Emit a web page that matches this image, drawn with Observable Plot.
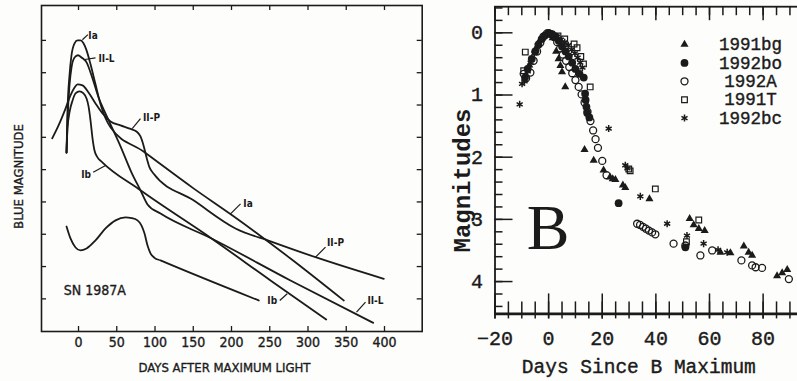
<!DOCTYPE html>
<html><head><meta charset="utf-8">
<script src="https://cdn.jsdelivr.net/npm/d3@7"></script>
<script src="https://cdn.jsdelivr.net/npm/@observablehq/plot@0.6"></script>
<style>
html,body{margin:0;padding:0;background:#fdfdfb;overflow:hidden}
#wrap{position:relative;width:797px;height:381px;overflow:hidden;background:#fdfdfb}
#wrap svg{position:absolute;top:0}
</style></head><body><div id="wrap"></div>
<script>
// ================= LEFT PANEL DATA (days after max, blue magnitude in tick units) =================
const leftDayTicks = [0, 50, 100, 150, 200, 250, 300, 350, 400];
const leftMagTicks = [0, 1, 2, 3, 4, 5, 6, 7, 8];

const curveIa = [[-15.7,3.47],[-14.4,2.17],[-11.8,1.08],[-9.2,0.46],[-5.2,0.09],[-1.3,0.0],[2.6,0.0],[6.5,0.09],[10.5,0.31],[15.7,0.74],[22.2,1.36],[28.8,1.98],[35.3,2.41],[41.8,2.69],[85.0,3.44],[150.3,4.58],[201.3,5.42],[277.1,6.75],[346.8,8.05]];
const curveIIL = [[-15.7,3.47],[-14.4,2.48],[-11.8,1.39],[-9.2,0.84],[-5.2,0.53],[-0.7,0.46],[3.9,0.53],[10.5,0.68],[18.3,1.18],[26.1,1.76],[34.0,2.20],[41.8,2.60],[54.9,3.28],[69.3,4.09],[81.0,4.64],[90.2,5.08],[107.2,5.36],[173.9,6.13],[277.1,7.43],[385.2,8.74]];
const curveIb = [[-15.7,3.47],[-14.4,2.72],[-11.8,2.23],[-7.8,1.86],[-3.9,1.64],[1.3,1.58],[6.5,1.64],[10.5,1.80],[13.1,2.04],[15.7,2.48],[18.3,3.03],[20.9,3.41],[24.8,3.62],[30.1,3.75],[81.0,4.64],[173.9,6.13],[251.0,7.43],[323.8,8.64]];
const curveIIP = [[-34.4,3.03],[-26.1,2.63],[-17.0,2.11],[-10.5,1.70],[-5.2,1.46],[-1.3,1.36],[5.2,1.39],[13.1,1.61],[22.2,1.95],[31.4,2.26],[41.8,2.51],[54.9,2.63],[68.0,2.74],[75.8,2.82],[81.0,2.97],[85.0,3.25],[88.9,3.62],[92.8,3.93],[98.0,4.12],[150.3,4.95],[205.2,5.82],[251.0,6.22],[309.8,6.71],[399.1,7.38]];
const curveSN1987A = [[-15.7,5.76],[-10.5,6.13],[-3.9,6.41],[2.6,6.50],[10.5,6.44],[22.2,6.19],[35.3,5.82],[48.4,5.57],[61.4,5.48],[69.3,5.50],[77.1,5.57],[82.4,5.73],[86.3,5.98],[90.2,6.35],[94.1,6.59],[99.3,6.73],[107.2,6.81],[235.7,8.05]];

const leftLabels = [
  {text:"Ia", day:19.0, mag:-0.15},
  {text:"II-L", day:36.6, mag:0.57},
  {text:"II-P", day:95.4, mag:2.41},
  {text:"Ib", day:9.8, mag:4.15},
  {text:"Ia", day:221.6, mag:5.05},
  {text:"II-P", day:336.0, mag:6.28},
  {text:"Ib", day:253.2, mag:8.05},
  {text:"II-L", day:388.2, mag:8.05}
];
const leftLeaders = [
  {d1:5.1, m1:-0.02, d2:12.2, m2:-0.18},
  {d1:6.1, m1:0.60, d2:22.2, m2:0.54},
  {d1:70.2, m1:2.73, d2:81.0, m2:2.42},
  {d1:19.2, m1:4.08, d2:35.3, m2:3.87},
  {d1:198.7, m1:5.37, d2:211.8, m2:5.06},
  {d1:309.8, m1:6.71, d2:322.9, m2:6.40},
  {d1:263.1, m1:8.05, d2:272.8, m2:7.84},
  {d1:363.4, m1:8.41, d2:375.2, m2:8.10}
];

// ================= RIGHT PANEL DATA (days since B maximum, magnitudes) =================
const rightDayMajor = [-20, 0, 20, 40, 60, 80, 100];
const rightDayLabels = [-20, 0, 20, 40, 60, 80];
const rightDayMinor = d3.range(-20, 101, 5);
const rightMagMajor = [0, 1, 2, 3, 4];
const rightMagMinor = d3.range(-4, 45, 2).map(v => v / 10);

const sn1991bg = [[-7.2,0.52],[-4.8,0.26],[-2.5,0.08],[-0.8,0.02],[1.5,0.08],[2.8,0.30],[3.7,0.42],[4.4,0.53],[5.0,0.63],[6.2,0.87],[13.4,1.88],[16.8,2.05],[20.5,2.21],[22.9,2.32],[23.9,2.35],[24.9,2.36],[27.7,2.45],[28.6,2.49],[37.6,2.67],[52.6,2.99],[54.1,3.09],[56.0,3.15],[58.2,3.18],[64.1,3.53],[67.8,3.54],[72.8,3.43],[74.6,3.53],[75.9,3.58],[85.2,3.91],[87.1,3.86],[89.0,3.81]];
const sn1992bo = [[-8.8,0.72],[-7.8,0.58],[-6.3,0.42],[-5.0,0.30],[-3.8,0.19],[-2.6,0.10],[-1.3,0.04],[0.0,0.0],[1.3,0.02],[2.6,0.06],[3.8,0.13],[5.0,0.22],[6.3,0.30],[7.5,0.38],[8.8,0.48],[10.0,0.58],[11.5,0.66],[13.1,0.72],[13.6,0.98],[13.8,1.08],[14.1,1.19],[14.4,1.29],[15.2,1.36],[26.1,2.74],[51.0,3.45]];
const sn1992A = [[-9.3,0.66],[-8.4,0.73],[-6.8,0.64],[-5.6,0.45],[-4.3,0.30],[-3.1,0.16],[-1.9,0.06],[-0.6,0.01],[0.8,0.02],[2.0,0.07],[3.2,0.15],[4.3,0.25],[5.3,0.35],[6.5,0.45],[7.7,0.55],[8.8,0.65],[10.0,0.76],[11.2,0.87],[12.3,0.99],[13.4,1.12],[14.5,1.27],[15.6,1.42],[16.6,1.57],[17.5,1.71],[18.4,1.85],[20.0,2.06],[21.6,2.29],[33.0,3.07],[34.1,3.09],[35.2,3.12],[36.3,3.15],[37.4,3.18],[38.6,3.21],[39.8,3.24],[46.6,3.39],[51.0,3.42],[56.6,3.58],[61.0,3.50],[71.9,3.66],[75.9,3.74],[77.2,3.77],[79.6,3.78],[89.6,3.96]];
const sn1991T = [[-9.3,0.61],[-8.7,0.31],[3.5,0.05],[6.0,0.10],[9.5,0.18],[10.6,0.24],[12.0,0.38],[13.0,0.50],[15.5,0.87],[29.9,2.19],[30.4,2.22],[39.8,2.51],[51.4,3.36],[56.0,3.01]];
const sn1992bc = [[-10.8,1.15],[-9.9,0.82],[-9.0,0.78],[-7.8,0.62],[-6.7,0.48],[-5.3,0.33],[-4.0,0.20],[-2.6,0.10],[-1.2,0.04],[0.3,0.0],[1.8,0.03],[3.2,0.06],[4.6,0.11],[6.0,0.15],[7.3,0.20],[8.6,0.27],[9.8,0.33],[10.8,0.40],[11.8,0.48],[12.6,0.56],[22.4,1.54],[28.6,2.13],[29.4,2.18],[34.2,2.63],[44.2,3.07],[51.6,3.26],[57.8,3.39],[63.2,3.49],[66.6,3.53]];

const seriesNames = ["1991bg", "1992bo", "1992A", "1991T", "1992bc"];

// ================= STYLE =================
const INK = "#1b1b1b";
const NARROW = "'Liberation Sans Narrow','DejaVu Sans Condensed','Liberation Sans',sans-serif";
const MONO = "'Liberation Mono','DejaVu Sans Mono',monospace";
const SERIF = "'Liberation Serif','DejaVu Serif',serif";
const bolden = w => ({fill: INK, stroke: INK, strokeWidth: w, paintOrder: "stroke"});
const fmtMinus = d => d < 0 ? "\u2212" + Math.abs(d) : String(d);

const leftRows = [["Ia", curveIa], ["II-L", curveIIL], ["Ib", curveIb], ["II-P", curveIIP], ["SN 1987A", curveSN1987A]]
  .flatMap(([type, pts]) => pts.map(([day, mag]) => ({type, day, mag})));

// ---- left plot ----
const L = {w: 430, h: 381, top: 5, right: 8.3, bottom: 50, left: 41};
const Lph = L.h - L.top - L.bottom, Lpw = L.w - L.left - L.right;
const leftPlot = Plot.plot({
  width: L.w, height: L.h,
  marginTop: L.top, marginRight: L.right, marginBottom: L.bottom, marginLeft: L.left,
  x: {domain: [-48.4, 449.3], axis: null},
  y: {domain: [-1.08, 9.01], reverse: true, axis: null},
  style: {background: "transparent", color: INK},
  marks: [
    Plot.frame({stroke: INK, strokeWidth: 1.6}),
    Plot.tickX(leftDayTicks, {x: d => d, insetTop: Lph - 5, stroke: INK, strokeWidth: 1.3}),
    Plot.tickX(leftDayTicks, {x: d => d, insetBottom: Lph - 5, stroke: INK, strokeWidth: 1.3}),
    Plot.tickY(leftMagTicks, {y: d => d, insetRight: Lpw - 5, stroke: INK, strokeWidth: 1.3}),
    Plot.tickY(leftMagTicks, {y: d => d, insetLeft: Lpw - 5, stroke: INK, strokeWidth: 1.3}),
    Plot.text(leftDayTicks, {x: d => d, text: d => String(d), frameAnchor: "bottom", dy: 11.5, lineAnchor: "middle", fontSize: 14, fontFamily: NARROW, ...bolden(0.35)}),
    Plot.line(leftRows, {x: "day", y: "mag", z: "type", curve: "monotone-x", stroke: INK, strokeWidth: 1.8}),
    Plot.link(leftLeaders, {x1: "d1", y1: "m1", x2: "d2", y2: "m2", stroke: INK, strokeWidth: 1.2}),
    Plot.text(leftLabels, {x: "day", y: "mag", text: "text", fontSize: 10, fontWeight: "bold", fontFamily: NARROW, fill: INK}),
    Plot.text(["SN 1987A"], {frameAnchor: "top-left", dx: 22.3, dy: 280, textAnchor: "start", fontSize: 14, fontFamily: NARROW, ...bolden(0.35)}),
    Plot.text(["DAYS AFTER MAXIMUM LIGHT"], {frameAnchor: "bottom-left", dx: 183, dy: 36, textAnchor: "middle", lineAnchor: "middle", fontSize: 13, fontFamily: NARROW, ...bolden(0.35)}),
    Plot.text(["BLUE MAGNITUDE"], {frameAnchor: "top-left", dx: -23, dy: 171, rotate: -90, textAnchor: "middle", lineAnchor: "middle", fontSize: 13, fontFamily: NARROW, ...bolden(0.35)})
  ]
});
leftPlot.style.left = "0px";

// ---- right plot ----
const R = {w: 400, h: 381, top: 6.2, right: 10, bottom: 67.6, left: 64.5};
const Rph = R.h - R.top - R.bottom, Rpw = R.w - R.left - R.right;
const pointStyles = {
  "1991bg": {symbol: "triangle", r: 3.0, fill: INK, stroke: "none"},
  "1992bo": {symbol: "circle", r: 3.9, fill: INK, stroke: "none"},
  "1992A": {symbol: "circle", r: 3.5, fill: "none", stroke: INK, strokeWidth: 1.3},
  "1991T": {symbol: "square", r: 3.2, fill: "none", stroke: INK, strokeWidth: 1.2},
  "1992bc": {symbol: "asterisk", r: 3.3, fill: "none", stroke: INK, strokeWidth: 1.5}
};
const seriesData = {"1991bg": sn1991bg, "1992bo": sn1992bo, "1992A": sn1992A, "1991T": sn1991T, "1992bc": sn1992bc};
const dotMarks = seriesNames.map(name =>
  Plot.dot(seriesData[name].map(([day, mag]) => ({day, mag})), {x: "day", y: "mag", ...pointStyles[name]}));
const legendMarks = seriesNames.flatMap((name, i) => [
  Plot.dot([name], {frameAnchor: "top-left", dx: 189.5, dy: 37.8 + i * 18.4, ...pointStyles[name]}),
  Plot.text([name], {frameAnchor: "top-left", dx: 255.5, dy: 37.8 + i * 18.4, textAnchor: "middle", lineAnchor: "middle", fontSize: 17.5, fontFamily: MONO, ...bolden(0.4)})
]);

const rightPlot = Plot.plot({
  width: R.w, height: R.h,
  marginTop: R.top, marginRight: R.right, marginBottom: R.bottom, marginLeft: R.left,
  x: {domain: [-20, 101.4], axis: null},
  y: {domain: [-0.42, 4.52], reverse: true, axis: null},
  style: {background: "transparent", color: INK},
  marks: [
    Plot.frame({stroke: INK, strokeWidth: 1.8}),
    Plot.ruleY([4.52], {stroke: INK, strokeWidth: 2.6}),
    // bottom ticks (crossing the axis)
    Plot.tickX(rightDayMinor, {x: d => d, insetTop: Rph - 12, insetBottom: -5, stroke: INK, strokeWidth: 1.5}),
    Plot.tickX(rightDayMajor, {x: d => d, insetTop: Rph - 20, insetBottom: -5, stroke: INK, strokeWidth: 1.5}),
    // top ticks
    Plot.tickX(rightDayMinor, {x: d => d, insetBottom: Rph - 9, stroke: INK, strokeWidth: 1.5}),
    Plot.tickX(rightDayMajor, {x: d => d, insetBottom: Rph - 14, stroke: INK, strokeWidth: 1.5}),
    // left ticks
    Plot.tickY(rightMagMinor, {y: d => d, insetRight: Rpw - 8, stroke: INK, strokeWidth: 1.5}),
    Plot.tickY(rightMagMajor, {y: d => d, insetRight: Rpw - 18, stroke: INK, strokeWidth: 1.5}),
    Plot.text(rightDayLabels, {x: d => d, text: fmtMinus, frameAnchor: "bottom", dy: 25, lineAnchor: "middle", fontSize: 20, fontFamily: MONO, ...bolden(0.4)}),
    Plot.text(rightMagMajor, {y: d => d, text: d => String(d), frameAnchor: "left", dx: -18, lineAnchor: "middle", textAnchor: "middle", fontSize: 20, fontFamily: MONO, ...bolden(0.4)}),
    ...dotMarks,
    ...legendMarks,
    Plot.text(["B"], {frameAnchor: "top-left", dx: 53, dy: 222.1, textAnchor: "middle", lineAnchor: "middle", fontSize: 64, fontFamily: SERIF, fill: INK}),
    Plot.text(["Days Since B Maximum"], {frameAnchor: "bottom-left", dx: 143.8, dy: 52.6, textAnchor: "middle", lineAnchor: "middle", fontSize: 19.5, fontFamily: MONO, ...bolden(0.4)}),
    Plot.text(["Magnitudes"], {frameAnchor: "top-left", dx: -32.8, dy: 173.8, rotate: -90, textAnchor: "middle", lineAnchor: "middle", fontSize: 24, fontWeight: "bold", fontFamily: MONO, fill: INK})
  ]
});
rightPlot.style.left = "430px";

const wrap = document.getElementById("wrap");
wrap.appendChild(leftPlot);
wrap.appendChild(rightPlot);
</script>
</body></html>
